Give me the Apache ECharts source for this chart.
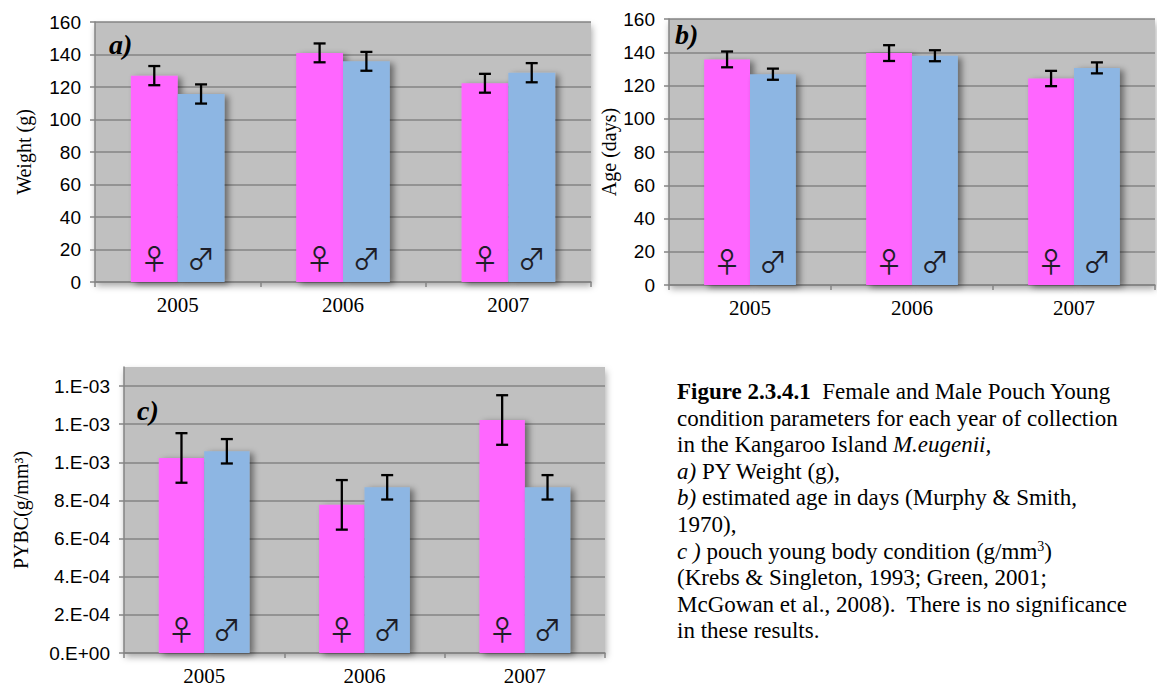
<!DOCTYPE html>
<html>
<head>
<meta charset="utf-8">
<script src="https://cdn.jsdelivr.net/npm/echarts@6/dist/echarts.min.js"></script>
<style>
  html, body { margin: 0; padding: 0; background: #ffffff; }
  #wrap { position: relative; width: 1157px; height: 688px; overflow: hidden; }
  #chart { position: absolute; left: 0; top: 0; width: 1157px; height: 688px; }
  #caption {
    position: absolute; left: 677px; top: 379px;
    font-family: "Liberation Serif", "Times New Roman", serif;
    font-size: 23px; line-height: 26.6px; color: #000; white-space: nowrap;
  }
  #caption sup { font-size: 14px; vertical-align: 8px; line-height: 0; }
</style>
</head>
<body>
<div id="wrap">
  <div id="chart"></div>
  <div id="caption">
    <b>Figure 2.3.4.1</b>&nbsp; Female and Male Pouch Young<br>
    condition parameters for each year of collection<br>
    in the Kangaroo Island <i>M.eugenii,</i><br>
    <i>a)</i> PY Weight (g),<br>
    <i>b)</i> estimated age in days (Murphy &amp; Smith,<br>
    1970),<br>
    <i>c )</i> pouch young body condition (g/mm<sup>3</sup>)<br>
    (Krebs &amp; Singleton, 1993; Green, 2001;<br>
    McGowan et al., 2008).&nbsp; There is no significance<br>
    in these results.
  </div>
</div>
<script>
// ---------------- data ----------------
const years = ['2005', '2006', '2007'];
const genderSymbols = ['\u2640', '\u2642'];

const weightFemale    = [127.0, 141.0, 122.3];
const weightFemaleErr = [5.9, 5.8, 5.8];
const weightMale      = [115.7, 135.8, 128.8];
const weightMaleErr   = [5.9, 5.8, 5.9];

const ageFemale    = [135.7, 139.5, 124.2];
const ageFemaleErr = [4.75, 4.75, 4.6];
const ageMale      = [126.8, 137.9, 130.6];
const ageMaleErr   = [3.35, 3.3, 3.3];

const pybcFemale    = [1.023e-3, 0.777e-3, 1.222e-3];
const pybcFemaleErr = [1.3e-4, 1.3e-4, 1.3e-4];
const pybcMale      = [1.058e-3, 0.869e-3, 0.869e-3];
const pybcMaleErr   = [0.64e-4, 0.64e-4, 0.64e-4];

const weightTickLabels = ['0', '20', '40', '60', '80', '100', '120', '140', '160'];
const ageTickLabels    = ['0', '20', '40', '60', '80', '100', '120', '140', '160'];
const pybcTickLabels   = ['0.E+00', '2.E-04', '4.E-04', '6.E-04', '8.E-04', '1.E-03', '1.E-03', '1.E-03'];

const panelLetters = ['a)', 'b)', 'c)'];
const axisTitles = ['Weight (g)', 'Age (days)', 'PYBC(g/mm\u00B3)'];

// ---------------- styling ----------------
const PINK = '#FF66FF';
const BLUE = '#8DB6E3';
const GRIDC = '#848484';
const CAT_GAP = 0.434;

function tickFormatter(labels, step) {
  return function (v) {
    const k = v / step;
    const idx = Math.round(k);
    if (Math.abs(k - idx) > 1e-6) return '';
    return labels[idx] !== undefined ? labels[idx] : '';
  };
}

const grids = [
  { left: 95,  top: 22,  width: 496, height: 260 },
  { left: 669, top: 19,  width: 486, height: 266 },
  { left: 124, top: 367, width: 481, height: 286 }
].map(g => Object.assign({
  show: true, backgroundColor: '#C0C0C0', borderWidth: 0,
  shadowBlur: 7, shadowColor: 'rgba(0,0,0,0.35)', shadowOffsetY: 4, shadowOffsetX: 1
}, g));

const xAxes = [0, 1, 2].map(i => ({
  type: 'category', gridIndex: i, data: years,
  axisLine: { show: true, lineStyle: { color: GRIDC, width: 1.5 } },
  axisTick: { show: true, length: 5, lineStyle: { color: GRIDC, width: 1.5 } },
  axisLabel: { color: '#000', fontFamily: 'Liberation Serif', fontSize: 21, margin: 12 },
  splitLine: { show: false }
}));

const yCfg = [
  { max: 160, interval: 20, labels: weightTickLabels, step: 20, gap: 61 },
  { max: 160, interval: 20, labels: ageTickLabels, step: 20, gap: 50 },
  { max: 1.5e-3, interval: 2e-4, labels: pybcTickLabels, step: 2e-4, gap: 93 }
];
const yAxes = yCfg.map((c, i) => ({
  type: 'value', gridIndex: i, min: 0, max: c.max, interval: c.interval,
  name: axisTitles[i], nameLocation: 'middle', nameGap: c.gap,
  nameTextStyle: { color: '#000', fontFamily: 'Liberation Serif', fontSize: 20 },
  axisLine: { show: true, lineStyle: { color: GRIDC, width: 1.5 } },
  axisTick: { show: true, length: 5, lineStyle: { color: GRIDC, width: 1.5 } },
  axisLabel: { color: '#000', fontFamily: 'Liberation Sans', fontSize: 19, margin: 14,
               formatter: tickFormatter(c.labels, c.step), showMaxLabel: i !== 2 },
  splitLine: { show: true, showMaxLine: i !== 2, lineStyle: { color: GRIDC, width: 1.6 } }
}));

function barSeries(i, data, color, symIdx) {
  return {
    type: 'bar', xAxisIndex: i, yAxisIndex: i, data: data,
    barGap: '0%', barCategoryGap: (CAT_GAP * 100) + '%',
    itemStyle: { color: color, shadowBlur: 6, shadowColor: 'rgba(0,0,0,0.45)',
                 shadowOffsetX: 4, shadowOffsetY: 2 },
    label: { show: true, position: 'insideBottom', distance: 10,
             formatter: () => genderSymbols[symIdx],
             fontFamily: 'Noto Sans CJK JP', fontSize: 28, color: '#1e1e28' },
    silent: true, animation: false, z: 2
  };
}

function errSeries(i, vals, errs, side) {
  return {
    type: 'custom', xAxisIndex: i, yAxisIndex: i,
    data: vals.map((v, k) => [k, v, errs[k]]),
    renderItem: function (params, api) {
      const xi = api.value(0), v = api.value(1), e = api.value(2);
      const catW = api.size([1, 0])[0];
      const barW = catW * (1 - CAT_GAP) / 2;
      const cx = api.coord([xi, v])[0] + side * barW / 2;
      const yt = api.coord([xi, v + e])[1];
      const yb = api.coord([xi, v - e])[1];
      const hw = 6;
      const st = { stroke: '#000', lineWidth: 2.3 };
      return { type: 'group', children: [
        { type: 'line', shape: { x1: cx, y1: yt, x2: cx, y2: yb }, style: st },
        { type: 'line', shape: { x1: cx - hw, y1: yt, x2: cx + hw, y2: yt }, style: st },
        { type: 'line', shape: { x1: cx - hw, y1: yb, x2: cx + hw, y2: yb }, style: st }
      ]};
    },
    silent: true, animation: false, z: 5
  };
}

const series = [
  barSeries(0, weightFemale, PINK, 0), barSeries(0, weightMale, BLUE, 1),
  errSeries(0, weightFemale, weightFemaleErr, -1), errSeries(0, weightMale, weightMaleErr, 1),
  barSeries(1, ageFemale, PINK, 0), barSeries(1, ageMale, BLUE, 1),
  errSeries(1, ageFemale, ageFemaleErr, -1), errSeries(1, ageMale, ageMaleErr, 1),
  barSeries(2, pybcFemale, PINK, 0), barSeries(2, pybcMale, BLUE, 1),
  errSeries(2, pybcFemale, pybcFemaleErr, -1), errSeries(2, pybcMale, pybcMaleErr, 1)
];

const letterPos = [[109, 30], [675, 20], [137, 396]];
const graphics = panelLetters.map((t, i) => ({
  type: 'text', left: letterPos[i][0], top: letterPos[i][1], z: 10,
  style: { text: t, fill: '#000', font: 'italic bold 28px "Liberation Serif"' }
}));

const chart = echarts.init(document.getElementById('chart'), null, { renderer: 'svg' });
chart.setOption({
  animation: false,
  grid: grids, xAxis: xAxes, yAxis: yAxes, series: series, graphic: graphics
});
</script>
</body>
</html>
